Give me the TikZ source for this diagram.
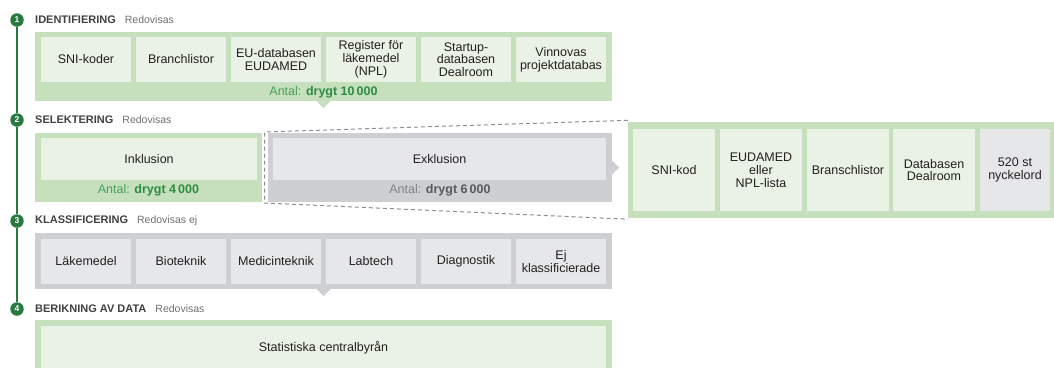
\documentclass[tikz,border=0pt]{standalone}
\usepackage{fontspec}
\setmainfont{Liberation Sans}
\definecolor{gout}{RGB}{198,224,190}
\definecolor{ginn}{RGB}{233,242,228}
\definecolor{kout}{RGB}{205,207,210}
\definecolor{kinn}{RGB}{230,231,233}
\definecolor{dkgreen}{RGB}{40,122,62}
\definecolor{antalg}{RGB}{72,160,92}
\definecolor{antalgb}{RGB}{45,140,65}
\definecolor{antalk}{RGB}{128,130,133}
\definecolor{antalkb}{RGB}{88,89,91}
\definecolor{titletext}{RGB}{65,64,66}
\definecolor{redov}{RGB}{112,112,114}
\definecolor{boxtext}{RGB}{35,31,32}
\definecolor{dashc}{RGB}{140,142,145}
\newcommand{\redovtxt}[1]{{\mdseries\fontsize{10.5}{10.5}\selectfont\color{redov}#1}}
\begin{document}
\begin{tikzpicture}[x=1pt,y=-1pt,
  boxtxt/.style={inner sep=0pt, align=center, font=\fontsize{12.5}{12.8}\selectfont, text=boxtext},
  outerbox/.style={inner sep=0pt, draw=none},
  gouter/.style={outerbox, fill=gout},
  kouter/.style={outerbox, fill=kout},
  ginner/.style={boxtxt, fill=ginn},
  kinner/.style={boxtxt, fill=kinn},
  small/.style={minimum width=90pt, minimum height=45pt},
  rsmall/.style={minimum width=82pt, minimum height=82pt},
  circ/.style={circle, fill=dkgreen, text=white, inner sep=0pt, minimum size=13.5pt, font=\bfseries\fontsize{8.5}{8.5}\selectfont},
  ttl/.style={anchor=west, inner sep=0pt, text=titletext, font=\bfseries\fontsize{11}{11}\selectfont},
  antal/.style={inner sep=0pt, font=\fontsize{12.5}{12.5}\selectfont},
  dashln/.style={draw=dashc, line width=1pt, dash pattern=on 4pt off 3pt}
]
\useasboundingbox (0,0) rectangle (1054,367);
\clip (0,0) rectangle (1054,367);

% timeline
\node[circ] (c1) at (17,20) {1};
\node[circ] (c2) at (17,120) {2};
\node[circ] (c3) at (17,221) {3};
\node[circ] (c4) at (17,309) {4};
\draw[dkgreen, line width=1.5pt] (c1) -- (c2);
\draw[dkgreen, line width=1.5pt] (c2) -- (c3);
\draw[dkgreen, line width=1.5pt] (c3) -- (c4);

% titles
\node[ttl] (t1) at (35,20) {IDENTIFIERING\hspace{9pt}\redovtxt{Redovisas}};
\node[ttl] (t2) at (35,120) {SELEKTERING\hspace{9pt}\redovtxt{Redovisas}};
\node[ttl] (t3) at (35,221) {KLASSIFICERING\hspace{9pt}\redovtxt{Redovisas ej}};
\node[ttl] (t4) at (35,309) {BERIKNING AV DATA\hspace{9pt}\redovtxt{Redovisas}};

% stage 1
\node[gouter, minimum width=577pt, minimum height=69pt] (s1) at (323.5,66.5) {};
\fill[gout] ([xshift=-7pt]s1.south) -- ([xshift=7pt]s1.south) -- ([yshift=-7pt]s1.south) -- cycle;
\node[ginner, small] (s1a) at (86,59.5) {SNI-koder};
\node[ginner, small] (s1b) at (181,59.5) {Branchlistor};
\node[ginner, small] (s1c) at (276,59.5) {EU-databasen\\EUDAMED};
\node[ginner, small] (s1d) at (371,59.5) {Register för\\läkemedel\\(NPL)};
\node[ginner, small] (s1e) at (466,59.5) {Startup-\\databasen\\Dealroom};
\node[ginner, small] (s1f) at (561,59.5) {Vinnovas\\projektdatabas};
\node[antal] (a1) at (323.5,92) {\color{antalg}Antal: \color{antalgb}\bfseries drygt 10\,000};

% stage 2
\node[gouter, minimum width=227pt, minimum height=69pt] (s2i) at (148.5,167.5) {};
\fill[gout] ([xshift=-7pt]s2i.south east) ++(-15pt,0) -- ++(14pt,0) -- ++(-7pt,7pt) -- cycle;
\node[ginner, minimum width=216pt, minimum height=42pt] (inkl) at (149,159) {Inklusion};
\node[antal] (a2) at (148.5,190) {\color{antalg}Antal: \color{antalgb}\bfseries drygt 4\,000};

\node[kouter, minimum width=344pt, minimum height=69pt] (s2e) at (440,167.5) {};
\fill[kout] ([yshift=-7pt]s2e.east) -- ([yshift=7pt]s2e.east) -- ([xshift=7pt]s2e.east) -- cycle;
\node[kinner, minimum width=333pt, minimum height=42pt] (exkl) at (439.5,159) {Exklusion};
\node[antal] (a3) at (440,190) {\color{antalk}Antal: \color{antalkb}\bfseries drygt 6\,000};

% right detail box
\node[gouter, minimum width=426pt, minimum height=96pt] (rb) at (841,170) {};
\node[ginner, rsmall] (r1) at (674,170) {SNI-kod};
\node[ginner, rsmall] (r2) at (761,170) {EUDAMED\\eller\\NPL-lista};
\node[ginner, rsmall] (r3) at (848,170) {Branschlistor};
\node[ginner, rsmall] (r4) at (934,170) {Databasen\\Dealroom};
\node[kinner, minimum width=70pt, minimum height=82pt] (r5) at (1015,170) {520 st\\nyckelord};

% dashed frame
\coordinate (dtl) at (264.5,132);
\coordinate (dbl) at (264.5,203);
\draw[dashln] ([yshift=1.5pt]rb.north west) -- (dtl) -- (dbl) -- ([yshift=-1pt]rb.south west);

% stage 3
\node[kouter, minimum width=577pt, minimum height=56pt] (s3) at (323.5,261) {};
\fill[kout] ([xshift=-7pt]s3.south) -- ([xshift=7pt]s3.south) -- ([yshift=-7pt]s3.south) -- cycle;
\node[kinner, small] (s3a) at (86,261.5) {Läkemedel};
\node[kinner, small] (s3b) at (181,261.5) {Bioteknik};
\node[kinner, small] (s3c) at (276,261.5) {Medicinteknik};
\node[kinner, small] (s3d) at (371,261.5) {Labtech};
\node[kinner, small] (s3e) at (466,261.5) {Diagnostik};
\node[kinner, small] (s3f) at (561,261.5) {Ej\\klassificierade};

% stage 4
\node[gouter, minimum width=577pt, minimum height=56pt] (s4) at (323.5,348) {};
\node[ginner, minimum width=565pt, minimum height=44pt] (scb) at (323.5,348) {Statistiska centralbyrån};
\end{tikzpicture}
\end{document}
